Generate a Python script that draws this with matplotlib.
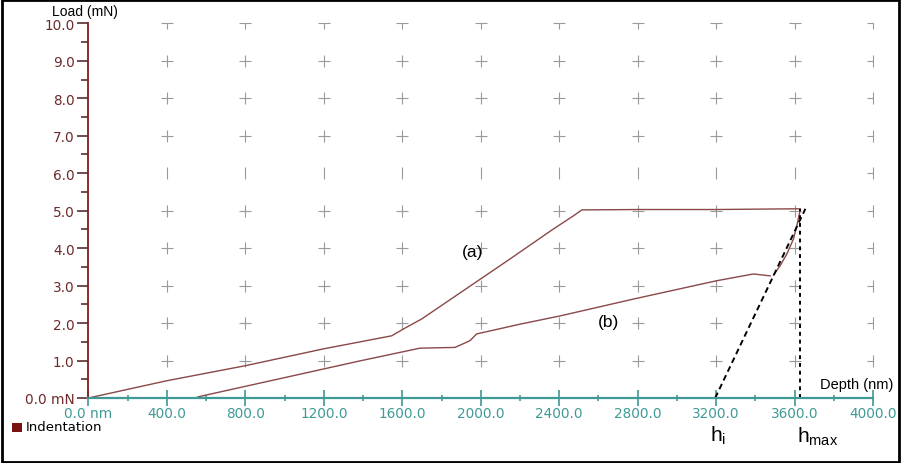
import matplotlib
matplotlib.use("Agg")
import matplotlib.pyplot as plt
from matplotlib.patches import Rectangle
from matplotlib.path import Path
from matplotlib.ticker import MultipleLocator, FixedLocator

plt.rcParams['mathtext.fontset'] = 'custom'
plt.rcParams['mathtext.rm'] = 'Liberation Sans'
plt.rcParams['mathtext.it'] = 'Liberation Sans'

# ---- data ----
a_depth = [0, 399, 798, 1197, 1546, 1605, 1699, 2149, 2370, 2472, 2515, 2800, 3200, 3400, 3630,
           3611, 3594, 3560, 3526, 3492]
a_load = [0, 0.46, 0.86, 1.31, 1.66, 1.84, 2.11, 3.71, 4.51, 4.86, 5.02, 5.03, 5.03, 5.04, 5.05,
          4.59, 4.24, 3.84, 3.53, 3.28]

b_depth = [558, 1384, 1690, 1869, 1945, 1979, 2200, 2404, 2778, 3203, 3390, 3475]
b_load = [0.03, 0.99, 1.33, 1.35, 1.53, 1.71, 1.97, 2.19, 2.64, 3.13, 3.31, 3.26]

tangent_depth = [3195, 3655]
tangent_load = [0.0, 5.05]
hmax_depth = [3630, 3630]
hmax_load = [0.0, 5.05]

x_ticks = [0, 400, 800, 1200, 1600, 2000, 2400, 2800, 3200, 3600, 4000]
x_labels = ['0.0 nm', '400.0', '800.0', '1200.0', '1600.0', '2000.0', '2400.0',
            '2800.0', '3200.0', '3600.0', '4000.0']
y_ticks = [0, 1, 2, 3, 4, 5, 6, 7, 8, 9, 10]
y_labels = ['0.0 mN', '1.0', '2.0', '3.0', '4.0', '5.0', '6.0', '7.0', '8.0', '9.0', '10.0']

curve_color = '#8a4848'
teal = '#3f9a95'
ylab_color = '#6e2a2a'
yaxis_color = '#8b1a1a'
grid_color = '#9a9a9a'

fig = plt.figure(figsize=(9.01, 4.64), dpi=100)
ax = fig.add_axes([0.0982, 0.1401, 0.9690 - 0.0982, 0.9476 - 0.1401])
ax.set_xlim(0, 4000)
ax.set_ylim(0, 10)

# grid crosses (edge ones are half crosses, as in the reference)
M, L = Path.MOVETO, Path.LINETO
top_marker = Path([(-1, 0), (1, 0), (0, 0), (0, -1)], [M, L, M, L])
right_marker = Path([(-1, 0), (0, 0), (0, 1), (0, -1)], [M, L, M, L])
corner_marker = Path([(-1, 0), (0, 0), (0, -1)], [M, L, L])
for xv in x_ticks[1:]:
    for yv in y_ticks[1:]:
        if xv == x_ticks[-1] and yv == y_ticks[-1]:
            mk = corner_marker
        elif yv == y_ticks[-1]:
            mk = top_marker
        elif xv == x_ticks[-1]:
            mk = right_marker
        elif yv == 6:
            mk = '|'
        else:
            mk = '+'
        ax.plot([xv], [yv], linestyle='none', marker=mk, markersize=8 if mk != '|' else 9,
                markeredgewidth=0.8, markerfacecolor='none', color=grid_color,
                clip_on=False, zorder=1)

# curves
ax.plot(a_depth, a_load, color=curve_color, lw=1.0, zorder=3)
ax.plot(b_depth, b_load, color=curve_color, lw=1.0, zorder=3)
ax.plot(tangent_depth, tangent_load, color='black', lw=1.4, dashes=(3, 2), zorder=4)
ax.plot(hmax_depth, hmax_load, color='black', lw=1.4, dashes=(2, 2), zorder=4)

# spines
for s in ['top', 'right']:
    ax.spines[s].set_visible(False)
ax.spines['left'].set_color(yaxis_color)
ax.spines['left'].set_linewidth(1.3)
ax.spines['bottom'].set_color(teal)
ax.spines['bottom'].set_linewidth(1.6)
ax.spines['bottom'].set_zorder(5)

ax.xaxis.set_major_locator(FixedLocator(x_ticks))
ax.set_xticklabels(x_labels)
ax.xaxis.set_minor_locator(MultipleLocator(200))
ax.yaxis.set_major_locator(FixedLocator(y_ticks))
ax.set_yticklabels(y_labels)
ax.yaxis.set_minor_locator(MultipleLocator(0.5))

ax.tick_params(axis='x', which='major', direction='inout', length=11, width=1.2,
               color=teal, labelcolor=teal, labelsize=9.8, pad=0)
ax.tick_params(axis='x', which='minor', direction='inout', length=5, width=1.2, color=teal)
ax.tick_params(axis='y', which='major', direction='out', length=8, width=1.2,
               color='#5a3030', labelcolor=ylab_color, labelsize=9.8, pad=2)
ax.tick_params(axis='y', which='minor', direction='out', length=5, width=1.2, color='#5a3030')
for lbl in ax.get_xticklabels() + ax.get_yticklabels():
    lbl.set_family('DejaVu Sans')

# axis titles
fig.text(85 / 901, 1 - 12 / 464, 'Load (mN)', ha='center', va='center',
         fontsize=10, family='Liberation Sans', color='black')
fig.text(893 / 901, 1 - 385 / 464, 'Depth (nm)', ha='right', va='center',
         fontsize=10.5, family='Liberation Sans', color='black')

# annotations
ax.text(1960, 3.92, '(a)', fontsize=12.5, family='Liberation Sans', ha='center', va='center')
ax.text(2650, 2.05, '(b)', fontsize=12.5, family='Liberation Sans', ha='center', va='center')
fig.text(718 / 901, 1 - 436 / 464, r'$\mathrm{h_{i}}$', fontsize=15, ha='center', va='center')
fig.text(818 / 901, 1 - 437 / 464, r'$\mathrm{h_{max}}$', fontsize=15, ha='center', va='center')

# legend
fig.patches.append(Rectangle((12 / 901, 1 - 433 / 464), 10 / 901, 9 / 464,
                             transform=fig.transFigure, facecolor='#7a1212', edgecolor='none'))
fig.text(26 / 901, 1 - 428 / 464, 'Indentation', fontsize=9.5, family='DejaVu Sans',
         ha='left', va='center', color='black')

# outer frame
fig.patches.append(Rectangle((0.002, 0.003), 0.996, 0.994, transform=fig.transFigure,
                             facecolor='none', edgecolor='black', linewidth=2.0))

fig.savefig('out.png', dpi=100)
